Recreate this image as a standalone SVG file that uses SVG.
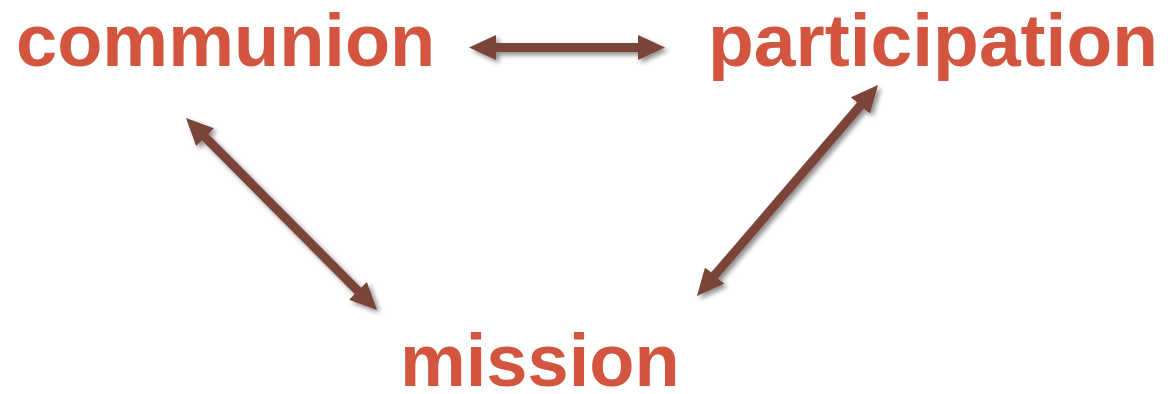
<svg xmlns="http://www.w3.org/2000/svg" width="1172" height="394" viewBox="0 0 1172 394">
  <style>
    .lbl { font-family: "Liberation Sans", Arial, sans-serif; font-weight: bold; font-size: 75px; fill: #D3553F; }
    .conn line { stroke: #7A4439; stroke-width: 9; marker-start: url(#head); marker-end: url(#head); }
  </style>
  <defs>
    <marker id="head" viewBox="0 0 27 25" refX="7" refY="12.5" markerWidth="27" markerHeight="25" markerUnits="userSpaceOnUse" orient="auto-start-reverse">
      <path d="M0,0 L27,12.5 L0,25 Z" fill="#7A4439"/>
    </marker>
    <filter id="shadow" x="-20%" y="-20%" width="140%" height="140%">
      <feDropShadow dx="3" dy="3" stdDeviation="2.5" flood-color="#000" flood-opacity="0.45"/>
    </filter>
  </defs>
  <rect width="1172" height="394" fill="#FFFFFF"/>
  <g id="connectors" class="conn" filter="url(#shadow)">
    <line x1="489" y1="47.5" x2="645" y2="47.5"/>
    <line x1="200.1" y1="132.2" x2="362.9" y2="295.8"/>
    <line x1="865" y1="100.2" x2="710" y2="280.8"/>
  </g>
  <g id="communion"><text class="lbl" x="16" y="66" style="font-size:74px">communion</text></g>
  <g id="participation"><text class="lbl" x="708" y="66">participation</text></g>
  <g id="mission"><text class="lbl" x="400" y="386" style="font-size:74px">mission</text></g>
</svg>
